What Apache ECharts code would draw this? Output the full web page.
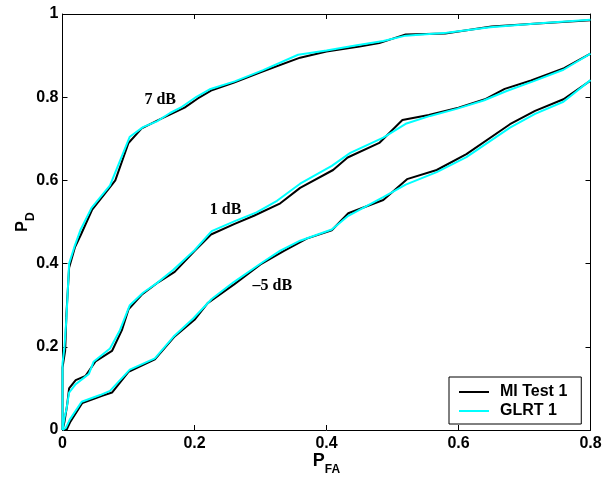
<!DOCTYPE html>
<html>
<head>
<meta charset="utf-8">
<script src="https://cdn.jsdelivr.net/npm/echarts@6/dist/echarts.min.js"></script>
<style>html,body{margin:0;padding:0;background:#fff;}#c{width:605px;height:480px;}</style>
</head>
<body>
<div id="c"></div>
<script>
var xTicks = [0, 0.2, 0.4, 0.6, 0.8];
var yTicks = [0, 0.2, 0.4, 0.6, 0.8, 1];
var seriesNames = ['MI Test 1', 'GLRT 1'];
var curveLabels = ['7 dB', '1 dB', '\u20135 dB'];
var labelPos = [[0.148, 0.794], [0.247, 0.529], [0.318, 0.346]];

var mi7 = [[0,0],[0,0.15],[0.004,0.19],[0.006,0.28],[0.01,0.39],[0.019,0.44],[0.028,0.47],[0.045,0.53],[0.075,0.59],[0.08,0.6],[0.1,0.69],[0.12,0.725],[0.145,0.745],[0.165,0.76],[0.185,0.775],[0.205,0.797],[0.225,0.816],[0.26,0.835],[0.3,0.86],[0.36,0.895],[0.4,0.91],[0.45,0.922],[0.48,0.93],[0.52,0.951],[0.58,0.953],[0.65,0.97],[0.72,0.977],[0.8,0.985]];
var glrt7 = [[0,0],[0,0.16],[0.003,0.2],[0.006,0.27],[0.01,0.4],[0.018,0.44],[0.027,0.48],[0.044,0.534],[0.072,0.588],[0.102,0.705],[0.122,0.728],[0.143,0.742],[0.163,0.762],[0.181,0.777],[0.203,0.801],[0.223,0.819],[0.261,0.838],[0.304,0.865],[0.357,0.902],[0.40,0.912],[0.446,0.925],[0.486,0.935],[0.52,0.948],[0.582,0.955],[0.648,0.968],[0.723,0.978],[0.80,0.986]];
var mi1 = [[0,0],[0.003,0.02],[0.007,0.06],[0.01,0.1],[0.02,0.12],[0.035,0.13],[0.05,0.165],[0.075,0.19],[0.09,0.24],[0.1,0.29],[0.12,0.325],[0.145,0.355],[0.17,0.38],[0.2,0.43],[0.225,0.47],[0.26,0.495],[0.29,0.515],[0.33,0.545],[0.36,0.582],[0.41,0.625],[0.432,0.655],[0.48,0.69],[0.515,0.745],[0.555,0.757],[0.6,0.775],[0.64,0.795],[0.67,0.82],[0.71,0.84],[0.76,0.87],[0.8,0.905]];
var glrt1 = [[0,0],[0.003,0.03],[0.006,0.05],[0.01,0.09],[0.02,0.11],[0.04,0.135],[0.047,0.164],[0.072,0.196],[0.087,0.24],[0.102,0.30],[0.122,0.33],[0.143,0.353],[0.168,0.385],[0.2,0.432],[0.226,0.478],[0.261,0.502],[0.294,0.523],[0.325,0.551],[0.36,0.592],[0.408,0.635],[0.436,0.666],[0.486,0.703],[0.52,0.736],[0.557,0.755],[0.597,0.772],[0.638,0.792],[0.673,0.815],[0.713,0.838],[0.759,0.866],[0.80,0.905]];
var miM5 = [[0,0],[0.006,0.0],[0.012,0.02],[0.03,0.065],[0.06,0.082],[0.075,0.09],[0.1,0.14],[0.14,0.17],[0.17,0.225],[0.2,0.265],[0.22,0.305],[0.26,0.35],[0.3,0.398],[0.335,0.43],[0.37,0.46],[0.408,0.48],[0.433,0.521],[0.486,0.553],[0.522,0.603],[0.567,0.625],[0.612,0.663],[0.678,0.735],[0.716,0.767],[0.759,0.795],[0.8,0.84]];
var glrtM5 = [[0,0],[0.005,0.005],[0.011,0.025],[0.029,0.068],[0.057,0.084],[0.072,0.094],[0.102,0.145],[0.14,0.172],[0.168,0.224],[0.198,0.268],[0.226,0.315],[0.259,0.355],[0.302,0.402],[0.33,0.431],[0.36,0.455],[0.408,0.482],[0.433,0.515],[0.486,0.56],[0.52,0.59],[0.567,0.62],[0.612,0.656],[0.678,0.727],[0.716,0.76],[0.759,0.789],[0.80,0.841]];

var miCurves = [mi7, mi1, miM5];
var glrtCurves = [glrt7, glrt1, glrtM5];

var FONT = 'Liberation Sans, Arial, sans-serif';
var chart = echarts.init(document.getElementById('c'), null, {renderer: 'canvas'});

var series = [];
miCurves.forEach(function (d, i) {
  series.push({
    name: seriesNames[0], type: 'line', data: d, showSymbol: false, symbol: 'none',
    lineStyle: {color: '#000000', width: 2}, itemStyle: {color: '#000000'},
    z: 2, silent: true
  });
});
glrtCurves.forEach(function (d, i) {
  series.push({
    name: seriesNames[1], type: 'line', data: d, showSymbol: false, symbol: 'none',
    lineStyle: {color: '#00ffff', width: 2}, itemStyle: {color: '#00ffff'},
    z: 3, silent: true,
    markPoint: {
      symbol: 'circle', symbolSize: 0, silent: true, animation: false,
      label: {show: true, position: 'inside', color: '#000', fontFamily: 'Liberation Serif, Times New Roman, serif',
        fontWeight: 'bold', fontSize: 16, formatter: curveLabels[i]},
      data: [{coord: labelPos[i], value: curveLabels[i]}]
    }
  });
});

var axisCommon = {
  min: 0, interval: 0.2,
  axisLine: {show: true, onZero: false, lineStyle: {color: '#000', width: 1}},
  axisTick: {show: true, inside: true, length: 5, lineStyle: {color: '#000'}},
  splitLine: {show: false}
};

var option = {
  animation: false,
  backgroundColor: '#ffffff',
  grid: {left: 62.5, right: 14.5, top: 14, bottom: 50, containLabel: false, outerBoundsMode: 'none'},
  legend: {
    data: seriesNames, orient: 'vertical', left: 449, top: 377,
    backgroundColor: '#fff', borderColor: '#000', borderWidth: 1, borderRadius: 0,
    padding: [7, 14, 5, 10], itemGap: 3, itemWidth: 30, itemHeight: 2, icon: 'rect',
    selectedMode: false,
    textStyle: {fontFamily: FONT, fontWeight: 'bold', fontSize: 16, color: '#000', padding: [0, 0, 0, 6]}
  },
  xAxis: [
    Object.assign({}, axisCommon, {
      type: 'value', max: 0.8, position: 'bottom',
      axisLabel: {show: true, margin: 6, color: '#000', fontFamily: FONT, fontWeight: 'bold', fontSize: 16,
        formatter: function (v) { var r = Math.round(v * 10) / 10; return xTicks.indexOf(r) >= 0 ? String(r) : ''; }},
      name: '{p|P}{s|FA}', nameLocation: 'middle', nameGap: 16, nameMoveOverlap: false,
      nameTextStyle: {rich: {
        p: {fontFamily: FONT, fontWeight: 'bold', fontSize: 18, color: '#000', lineHeight: 30},
        s: {fontFamily: FONT, fontWeight: 'bold', fontSize: 12, color: '#000', lineHeight: 10, verticalAlign: 'bottom'}
      }}
    }),
    Object.assign({}, axisCommon, {
      type: 'value', max: 0.8, position: 'top', axisLabel: {show: false}
    })
  ],
  yAxis: [
    Object.assign({}, axisCommon, {
      type: 'value', max: 1, position: 'left',
      axisLabel: {show: true, margin: 4, color: '#000', fontFamily: FONT, fontWeight: 'bold', fontSize: 16,
        formatter: function (v) { var r = Math.round(v * 10) / 10; return yTicks.indexOf(r) >= 0 ? String(r) : ''; }},
      name: '{p|P}{s|D}', nameLocation: 'middle', nameGap: 26, nameRotate: 90, nameMoveOverlap: false,
      nameTextStyle: {rich: {
        p: {fontFamily: FONT, fontWeight: 'bold', fontSize: 16, color: '#000', lineHeight: 28},
        s: {fontFamily: FONT, fontWeight: 'bold', fontSize: 12, color: '#000', lineHeight: 10, verticalAlign: 'bottom'}
      }}
    }),
    Object.assign({}, axisCommon, {
      type: 'value', max: 1, position: 'right', axisLabel: {show: false}
    })
  ],
  series: series
};
chart.setOption(option);
</script>
</body>
</html>
